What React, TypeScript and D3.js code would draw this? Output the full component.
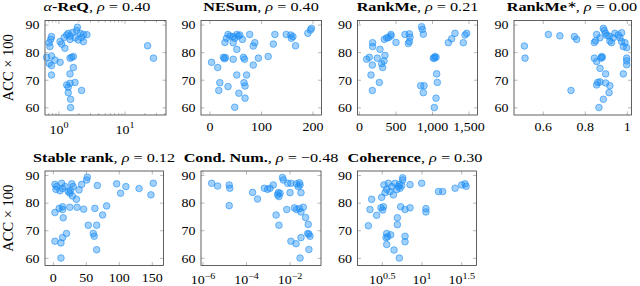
import React from 'react';
import * as d3 from 'd3';

// accuracy axis shared by every panel
const accTicks = [60, 70, 80, 90];
const accDomain: [number, number] = [57.4, 91.65];

const rhos = ['0.40', '0.40', '0.21', '0.00', '0.12', '−0.48', '0.30'];

// [metric value, ACC×100]
const alphaReq: [number, number][] = [
  [1.9, 89.2], [1.85, 88.0], [1.38, 87.0], [1.6, 87.3], [1.31, 86.4], [1.47, 86.0], [2.1, 87.0],
  [2.35, 86.6], [2.65, 86.5], [1.2, 85.5], [1.47, 84.8], [1.75, 85.4], [1.96, 84.6], [2.2, 85.5],
  [2.34, 84.0], [1.04, 84.0], [1.1, 83.1], [0.77, 85.8], [0.75, 84.8], [0.71, 83.6], [0.73, 82.2],
  [1.23, 81.6], [0.65, 78.3], [0.77, 78.8], [0.87, 77.3], [0.71, 76.1], [0.77, 75.3], [1.04, 76.5],
  [1.47, 78.0], [1.56, 78.3], [1.65, 78.6], [1.65, 74.6], [0.77, 71.9], [1.47, 72.3], [1.31, 68.3],
  [1.47, 68.9], [1.75, 69.2], [1.38, 67.5], [1.38, 65.5], [1.5, 63.1], [1.5, 60.1], [2.2, 66.3],
  [22, 82.5], [27, 78.0],
];

const neSum: [number, number][] = [
  [35, 86.6], [39, 86.0], [32, 85.2], [45, 85.8], [52, 86.6], [55, 86.0], [48, 85.2], [58, 86.4],
  [29, 83.7], [45, 83.6], [52, 81.2], [63, 84.8], [77, 86.6], [84, 82.4], [87, 83.6], [113, 78.6],
  [94, 78.0], [84, 75.5], [126, 86.6], [123, 83.1], [148, 86.6], [157, 86.4], [161, 85.8], [158, 85.2],
  [166, 82.5], [190, 87.0], [195, 88.2], [197, 88.8], [3, 76.5], [15, 74.6], [26, 78.3], [28, 77.8],
  [30, 78.2], [45, 77.6], [65, 78.3], [67, 77.6], [19, 69.1], [17, 66.3], [35, 67.7], [52, 71.9],
  [66, 69.1], [68, 67.9], [56, 65.3], [68, 63.5], [48, 60.2], [71, 71.9],
];

const rankMe: [number, number][] = [
  [98, 77.6], [135, 78.3], [180, 83.6], [180, 82.2], [158, 71.9], [176, 75.5], [176, 66.3],
  [244, 78.0], [281, 81.2], [304, 76.0], [317, 74.6], [336, 77.0], [340, 84.8], [272, 69.2],
  [349, 79.0], [372, 85.4], [395, 85.4], [431, 86.6], [431, 86.0], [500, 83.7], [623, 86.6],
  [683, 86.8], [692, 85.6], [683, 84.0], [669, 83.3], [851, 89.4], [861, 88.4], [874, 86.7],
  [838, 68.0], [884, 68.0], [874, 65.5], [1011, 78.0], [1034, 78.6], [1048, 78.3], [1025, 78.0],
  [1057, 72.3], [1066, 69.2], [1048, 63.5], [1025, 60.1], [1217, 83.6], [1262, 85.0], [1308, 87.0],
  [1422, 83.6], [1445, 86.4], [1468, 87.0],
];

const rankMeStar: [number, number][] = [
  [0.51, 82.4], [0.513, 78.0], [0.624, 86.6], [0.679, 86.1], [0.748, 85.8], [0.759, 84.8], [0.732, 66.3],
  [0.843, 83.7], [0.849, 84.3], [0.854, 86.6], [0.87, 85.4], [0.886, 88.8], [0.89, 88.0], [0.897, 87.0],
  [0.902, 86.2], [0.913, 86.0], [0.917, 84.2], [0.925, 83.6], [0.933, 85.4], [0.941, 87.0], [0.957, 86.4],
  [0.965, 85.4], [0.973, 84.0], [0.981, 82.2], [0.973, 87.2], [0.989, 83.6], [0.997, 81.8], [0.843, 78.0],
  [0.854, 76.8], [0.87, 74.3], [0.875, 78.0], [0.878, 78.6], [0.881, 78.3], [0.897, 72.3], [0.981, 72.3],
  [0.997, 78.0], [0.997, 77.0], [0.997, 75.6], [0.854, 68.3], [0.859, 69.2], [0.87, 69.4], [0.897, 69.0],
  [0.917, 68.0], [0.913, 65.5], [0.886, 63.1], [0.865, 60.1],
];

const stableRank: [number, number][] = [
  [2.5, 86.8], [5, 86.0], [4, 85.0], [12.6, 87.2], [10, 84.5], [14, 85.3], [17.7, 86.0], [22.7, 84.2],
  [25, 83.6], [26, 84.6], [28, 87.0], [30, 86.0], [29, 82.6], [35, 81.4], [39, 84.8], [43, 86.8],
  [50.5, 88.4], [51.5, 89.4], [66.7, 86.4], [96, 87.0], [102, 83.6], [110, 86.0], [130, 85.3],
  [148, 83.0], [151.5, 87.2], [2.5, 76.6], [9, 78.1], [14, 78.7], [14, 77.7], [15, 74.7], [25, 78.5],
  [36, 78.5], [46, 77.8], [63, 78.1], [74.7, 75.7], [80.8, 79.0], [53, 72.0], [65.7, 72.0], [60.6, 69.0],
  [62, 68.0], [20, 69.0], [14, 67.5], [2.5, 66.2], [11.6, 65.6], [65.7, 63.1], [11.6, 60.1],
];

const condNum: [number, number][] = [
  [2.5e-6, 87.2], [4.7e-6, 86.2], [1.6e-5, 86.6], [1.7e-5, 85.4], [1.6e-5, 79.1], [1.9e-4, 83.9],
  [3.2e-4, 81.5], [6.6e-4, 85.4], [9.3e-4, 85.0], [1.2e-3, 85.4], [1.7e-3, 86.6], [2.7e-3, 83.0],
  [2.9e-3, 83.8], [3.1e-3, 82.4], [3.5e-3, 83.6], [2.3e-3, 75.7], [3.1e-3, 72.0], [4.5e-3, 89.3],
  [4.9e-3, 88.4], [7.8e-3, 87.2], [1.0e-2, 83.8], [7.1e-3, 77.7], [1.1e-2, 87.2], [1.6e-2, 78.3],
  [2.0e-2, 87.0], [2.4e-2, 86.0], [2.9e-2, 86.6], [2.7e-2, 87.4], [3.2e-2, 83.8], [2.0e-2, 77.7],
  [2.7e-2, 78.0], [3.2e-2, 76.8], [4.1e-2, 78.5], [1.1e-2, 66.2], [1.9e-2, 65.3], [3.2e-2, 67.5],
  [2.9e-2, 60.1], [5.2e-2, 74.8], [6.9e-2, 72.3], [6.5e-2, 69.0], [8.3e-2, 68.0], [7.4e-2, 68.8],
  [7.4e-2, 63.2],
];

const coherence: [number, number][] = [
  [2.11, 71.8], [2.21, 77.7], [2.32, 81.4], [2.68, 75.6], [3.04, 78.3], [3.26, 78.7], [3.19, 77.5],
  [3.1, 82.1], [3.32, 86.6], [3.42, 83.8], [3.59, 85.0], [3.77, 87.2], [3.95, 84.2], [4.15, 86.0],
  [4.35, 83.0], [4.57, 87.2], [4.8, 84.9], [5.04, 86.0], [5.28, 85.4], [5.54, 86.4], [5.71, 88.4],
  [5.71, 89.2], [5.18, 86.8], [7.06, 86.7], [9.9, 87.2], [16.1, 84.2], [18.2, 84.2], [26.1, 85.4],
  [31.6, 86.6], [34.8, 87.0], [35.9, 86.1], [3.59, 69.0], [3.52, 67.5], [3.69, 67.8], [4.03, 68.5],
  [3.59, 65.0], [4.44, 63.0], [5.18, 60.1], [4.89, 74.7], [4.89, 72.2], [5.38, 78.7], [6.11, 77.7],
  [7.06, 78.3], [6.11, 68.0], [6.11, 66.0], [11.2, 78.0], [11.2, 76.8],
];

type Part = { t: string; b?: boolean; i?: boolean; sup?: boolean };
type TickLabel = { base: string; exp?: string };

interface Panel {
  name: Part[];
  data: [number, number][];
  log: boolean;
  domain: [number, number];
  ticks: number[];
  labels: TickLabel[];
  minor?: number[];
  box: { x0: number; x1: number; y0: number; y1: number };
  titleX: number;
  ylabel?: boolean;
}

const TOP = { y0: 20.5, y1: 115 };
const BOT = { y0: 171, y1: 265.5 };

const panels: Panel[] = [
  {
    name: [{ t: 'α', i: true }, { t: '-ReQ', b: true }], data: alphaReq, log: true,
    domain: [0.614, 41.8], ticks: [1, 10], labels: [{ base: '10', exp: '0' }, { base: '10', exp: '1' }],
    minor: [0.7, 0.8, 0.9, 2, 3, 4, 5, 6, 7, 8, 9, 20, 30, 40],
    box: { x0: 45, x1: 166, ...TOP }, titleX: 97, ylabel: true,
  },
  {
    name: [{ t: 'NESum', b: true }], data: neSum, log: false,
    domain: [-17.5, 216.5], ticks: [0, 100, 200], labels: [{ base: '0' }, { base: '100' }, { base: '200' }],
    box: { x0: 201, x1: 321.5, ...TOP }, titleX: 261,
  },
  {
    name: [{ t: 'RankMe', b: true }], data: rankMe, log: false,
    domain: [-27, 1616], ticks: [0, 500, 1000, 1500],
    labels: [{ base: '0' }, { base: '500' }, { base: '1,000' }, { base: '1,500' }],
    box: { x0: 357.5, x1: 477.5, ...TOP }, titleX: 417.5,
  },
  {
    name: [{ t: 'RankMe', b: true }, { t: '∗', sup: true }], data: rankMeStar, log: false,
    domain: [0.4605, 1.02], ticks: [0.6, 0.8, 1], labels: [{ base: '0.6' }, { base: '0.8' }, { base: '1' }],
    box: { x0: 514, x1: 631.5, ...TOP }, titleX: 572,
  },
  {
    name: [{ t: 'Stable rank', b: true }], data: stableRank, log: false,
    domain: [-12.6, 167], ticks: [0, 50, 100, 150],
    labels: [{ base: '0' }, { base: '50' }, { base: '100' }, { base: '150' }],
    box: { x0: 45, x1: 163.5, ...BOT }, titleX: 104, ylabel: true,
  },
  {
    name: [{ t: 'Cond. Num.', b: true }], data: condNum, log: true,
    domain: [8.09e-7, 0.266], ticks: [1e-6, 1e-4, 1e-2],
    labels: [{ base: '10', exp: '−6' }, { base: '10', exp: '−4' }, { base: '10', exp: '−2' }],
    box: { x0: 201, x1: 321, ...BOT }, titleX: 261,
  },
  {
    name: [{ t: 'Coherence', b: true }], data: coherence, log: true,
    domain: [1.54, 48.5], ticks: [3.162, 10, 31.62],
    labels: [{ base: '10', exp: '0.5' }, { base: '10', exp: '1' }, { base: '10', exp: '1.5' }],
    box: { x0: 357.5, x1: 476.5, ...BOT }, titleX: 415,
  },
];

const FONT = '"Liberation Serif", "Times New Roman", serif';
const BLUE = '#1e8ff5';

const PanelView: React.FC<{ p: Panel; rho: string }> = ({ p, rho }) => {
  const { x0, x1, y0, y1 } = p.box;
  const x = (p.log ? d3.scaleLog() : d3.scaleLinear()).domain(p.domain).range([x0, x1]);
  const y = d3.scaleLinear().domain(accDomain).range([y1, y0]);
  const tickCol = '#8a8a8a';

  let afterSup = false;
  const nameSpans = p.name.map((part, k) => {
    const dy = part.sup ? -3.5 : afterSup ? 3.5 : 0;
    afterSup = !!part.sup;
    return (
      <tspan key={k} fontWeight={part.b ? 'bold' : 'normal'} fontStyle={part.i ? 'italic' : 'normal'}
        fontSize={part.sup ? 9.5 : undefined} dy={dy || undefined}>{part.t}</tspan>
    );
  });

  return (
    <g>
      {/* title */}
      <text transform={`translate(${p.titleX},${y0 - 9.5}) scale(1.2,1)`} textAnchor="middle" fontSize={13.5} fill="#000">
        {nameSpans}
        <tspan dy={afterSup ? 3.5 : undefined}>, </tspan>
        <tspan fontStyle="italic">ρ</tspan>
        <tspan> = {rho}</tspan>
      </text>

      {p.minor && p.minor.map((v, k) => (
        <g key={'m' + k} stroke={tickCol} strokeWidth={0.6}>
          <line x1={x(v)} x2={x(v)} y1={y1} y2={y1 - 2} />
          <line x1={x(v)} x2={x(v)} y1={y0} y2={y0 + 2} />
        </g>
      ))}
      {p.ticks.map((v, k) => (
        <g key={'t' + k} stroke={tickCol} strokeWidth={0.6}>
          <line x1={x(v)} x2={x(v)} y1={y1} y2={y1 - 3.5} />
          <line x1={x(v)} x2={x(v)} y1={y0} y2={y0 + 3.5} />
        </g>
      ))}
      {accTicks.map((v, k) => (
        <g key={'y' + k} stroke={tickCol} strokeWidth={0.6}>
          <line x1={x0} x2={x0 + 3.5} y1={y(v)} y2={y(v)} />
          <line x1={x1} x2={x1 - 3.5} y1={y(v)} y2={y(v)} />
        </g>
      ))}

      {p.data.map((d, k) => (
        <circle key={k} cx={x(d[0])} cy={y(d[1])} r={3.3}
          fill={BLUE} fillOpacity={0.42} stroke={BLUE} strokeOpacity={0.75} strokeWidth={0.8} />
      ))}

      <rect x={x0} y={y0} width={x1 - x0} height={y1 - y0} fill="none" stroke="#3a3a3a" strokeWidth={0.8} />

      {/* tick labels */}
      {p.ticks.map((v, k) => {
        const l = p.labels[k];
        return (
          <text key={'xl' + k} transform={`translate(${x(v)},${y1 + (l.exp ? 18.5 : 16)}) scale(1.12,1)`}
            textAnchor="middle" fontSize={12.5} fill="#000">
            <tspan>{l.base}</tspan>
            {l.exp && <tspan dy={-5.5} fontSize={9}>{l.exp}</tspan>}
          </text>
        );
      })}
      {accTicks.map((v, k) => (
        <text key={'yl' + k} transform={`translate(${x0 - 5.5},${y(v) + 4.3}) scale(1.12,1)`}
          textAnchor="end" fontSize={12.5} fill="#000">{v}</text>
      ))}

      {p.ylabel && (
        <text transform={`translate(12.5,${(y0 + y1) / 2}) rotate(-90)`} textAnchor="middle" fontSize={14.5} fill="#000">
          ACC × 100
        </text>
      )}
    </g>
  );
};

export default function App() {
  return (
    <svg width={640} height={286} viewBox="0 0 640 286"
      style={{ position: 'absolute', left: 0, top: 0, background: '#fff', fontFamily: FONT }}>
      {panels.map((p, i) => <PanelView key={i} p={p} rho={rhos[i]} />)}
    </svg>
  );
}
